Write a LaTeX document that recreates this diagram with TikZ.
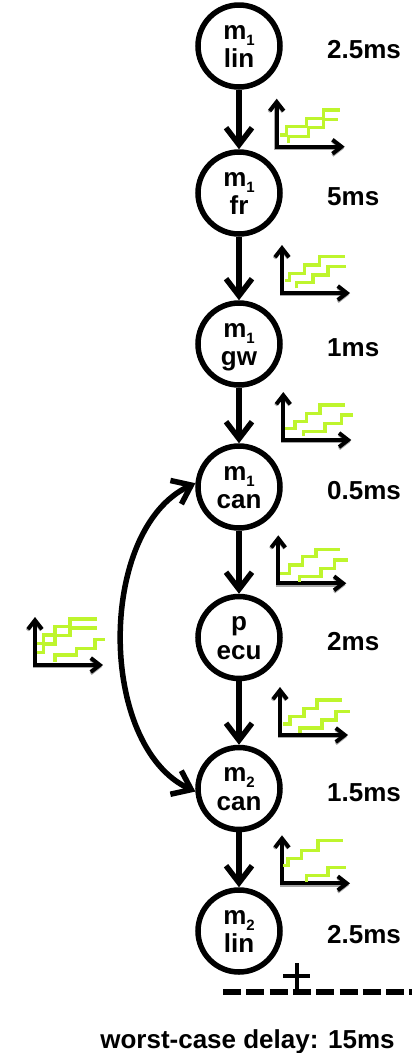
\documentclass[tikz,border=0pt]{standalone}
\usepackage{fontspec}
\setmainfont{Liberation Sans}
\usetikzlibrary{arrows.meta}
\definecolor{stairgreen}{RGB}{190,245,45}
% small lowered index after a letter
\newcommand{\lowidx}[1]{\raisebox{-6pt}{\fontsize{15pt}{15pt}\selectfont #1}}
% two centred text lines placed round the node centre
\newcommand{\twoline}[2]{\makebox[0pt]{\raisebox{7pt}[0pt][0pt]{#1}}\makebox[0pt]{\raisebox{-21.5pt}[0pt][0pt]{#2}}}
\begin{document}
\begin{tikzpicture}[x=1pt,y=1pt,
  barb/.tip={Straight Barb[length=17pt,width=26pt]},
  axtip/.tip={Straight Barb[length=9pt,width=14pt]},
  proc/.style={circle, draw, line width=5.5pt, minimum size=82pt, inner sep=0pt,
    font=\bfseries\fontsize{26pt}{28pt}\selectfont},
  timing/.style={anchor=base west, inner sep=0pt, font=\bfseries\fontsize{26pt}{28pt}\selectfont},
  flow/.style={line width=5.5pt, -barb},
  twoway/.style={line width=5.5pt, barb-barb},
  stair/.style={draw=stairgreen, line width=3.3pt},
  axes/.pic={
    \draw[black!35, line width=3pt, axtip-axtip, shift={(-0.8,-1.8)}] (0,48) -- (0,0) -- (68,0);
    \draw[line width=4pt, axtip-axtip] (0,48) -- (0,0) -- (68,0);
  }]
\fill[white] (0,0) rectangle (412,-1053);
\useasboundingbox (0,0) rectangle (412,-1053);

% processing chain
\node[proc] (lin1) at (239,-46)    {\twoline{m\lowidx{1}}{lin}};
\node[proc] (fr1)  at (239,-193)   {\twoline{m\lowidx{1}}{fr}};
\node[proc] (gw1)  at (239,-344)   {\twoline{m\lowidx{1}}{gw}};
\node[proc] (can1) at (239,-487)   {\twoline{m\lowidx{1}}{can}};
\node[proc] (ecu)  at (239,-637.5) {\twoline{p}{ecu}};
\node[proc] (can2) at (239,-788.5) {\twoline{m\lowidx{2}}{can}};
\node[proc] (lin2) at (239,-931)   {\twoline{m\lowidx{2}}{lin}};

% execution times
\node[timing] (t1) at (327,-58.5)  {2.5ms};
\node[timing] (t2) at (327,-205.5) {5ms};
\node[timing] (t3) at (327,-356.5) {1ms};
\node[timing] (t4) at (327,-499.5) {0.5ms};
\node[timing] (t5) at (327,-650)   {2ms};
\node[timing] (t6) at (327,-801)   {1.5ms};
\node[timing] (t7) at (327,-943.5) {2.5ms};

% connections
\draw[flow] (lin1) -- (fr1);
\draw[flow] (fr1) -- (gw1);
\draw[flow] (gw1) -- (can1);
\draw[flow] (can1) -- (ecu);
\draw[flow] (ecu) -- (can2);
\draw[flow] (can2) -- (lin2);
\draw[twoway] (can1.175) to[out=205,in=155,looseness=0.9] (can2.184);

% arrival curves on the links
\begin{scope}[shift={(276.7,-146.7)}]
  \pic {axes};
  \draw[stair] (3.3,11.7) -- (10,11.7) -- (10,20) -- (30,20) -- (30,28.3) -- (46.7,28.3) -- (46.7,36.7) -- (63.3,36.7);
  \draw[stair] (11.7,3.3) -- (11.7,10) -- (31.7,10) -- (31.7,19) -- (46.7,19) -- (46.7,27.3) -- (61.7,27.3);
\end{scope}
\begin{scope}[shift={(282,-293)}]
  \pic {axes};
  \draw[stair] (2.7,12.3) -- (7.7,12.3) -- (7.7,19.7) -- (22.7,19.7) -- (22.7,28) -- (37.7,28) -- (37.7,36.3) -- (62.7,36.3);
  \draw[stair] (14.3,4.7) -- (14.3,10.3) -- (31,10.3) -- (31,18) -- (46,18) -- (46,26.3) -- (64.3,26.3);
\end{scope}
\begin{scope}[shift={(283.3,-440)}]
  \pic {axes};
  \draw[stair] (1.7,11.7) -- (11.7,11.7) -- (11.7,18.3) -- (23.3,18.3) -- (23.3,26.7) -- (36.7,26.7) -- (36.7,35) -- (61.7,35);
  \draw[stair] (20,4) -- (20,8.3) -- (41.7,8.3) -- (41.7,16.7) -- (58.3,16.7) -- (58.3,25) -- (70,25);
\end{scope}
\begin{scope}[shift={(278.3,-583.3)}]
  \pic {axes};
  \draw[stair] (1.7,10) -- (11,10) -- (11,18.3) -- (24.3,18.3) -- (24.3,26.7) -- (37.7,26.7) -- (37.7,34) -- (61.7,34);
  \draw[stair] (21,1.7) -- (21,6.7) -- (42.7,6.7) -- (42.7,15) -- (56,15) -- (56,23.3) -- (70,23.3);
\end{scope}
\begin{scope}[shift={(280,-735)}]
  \pic {axes};
  \draw[stair] (3,11) -- (10,11) -- (10,18.3) -- (24,18.3) -- (24,26.7) -- (37,26.7) -- (37,35) -- (62,35);
  \draw[stair] (20,2) -- (20,7) -- (42,7) -- (42,15) -- (56,15) -- (56,23.5) -- (70,23.5);
\end{scope}
\begin{scope}[shift={(282,-883.3)}]
  \pic {axes};
  \draw[stair] (1,18) -- (6,18) -- (6,24.7) -- (19.3,24.7) -- (19.3,33) -- (36,33) -- (36,43) -- (61,43);
  \draw[stair] (24.3,1.3) -- (24.3,8) -- (46,8) -- (46,15.7) -- (64.3,15.7);
\end{scope}
% curve on the bus round trip
\begin{scope}[shift={(35,-665)}]
  \pic {axes};
  \draw[stair] (1.7,21.7) -- (8.3,21.7) -- (8.3,30) -- (20,30) -- (20,38.3) -- (35,38.3) -- (35,46) -- (61.7,46);
  \draw[stair] (1.7,12.7) -- (8.3,12.7) -- (8.3,21) -- (20,21) -- (20,29.3) -- (35,29.3) -- (35,37) -- (61.7,37);
  \draw[stair] (20,3.3) -- (20,10) -- (41.7,10) -- (41.7,16.7) -- (60,16.7) -- (60,25.7) -- (70,25.7);
\end{scope}

% summed delay
\coordinate (sumL) at (223,-992);
\coordinate (sumR) at (412,-992);
\draw[line width=6pt, dash pattern=on 18pt off 5.3pt] (sumL) -- (sumR);
\draw[line width=4pt] (297,-963) -- (297,-990) (283,-976) -- (310,-976);
\node[anchor=base, inner sep=0pt, font=\bfseries\fontsize{26pt}{28pt}\selectfont] (total) at (247.5,-1048) {worst-case delay: 15ms};
\end{tikzpicture}
\end{document}
